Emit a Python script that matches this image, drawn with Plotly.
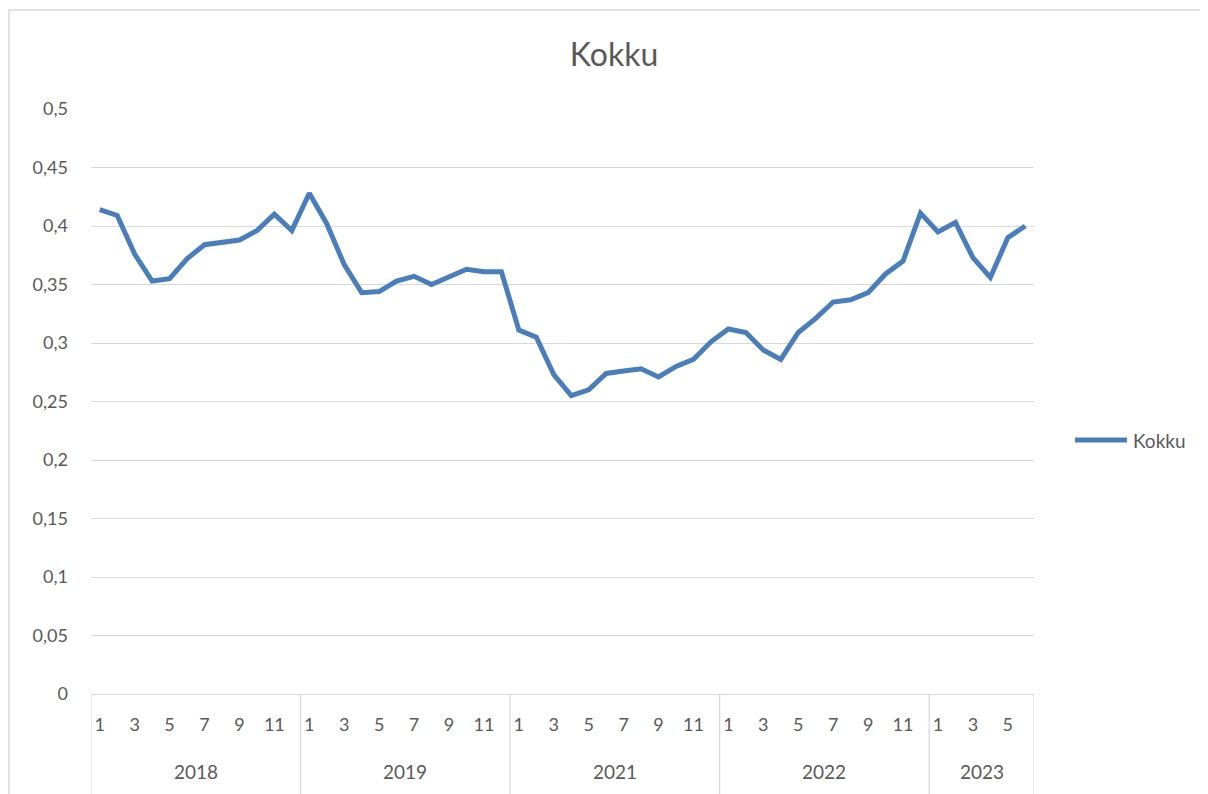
import plotly.graph_objects as go

# ---- data ----
years = ["2018", "2019", "2021", "2022", "2023"]
months_per_year = [12, 12, 12, 12, 6]
values_2018 = [0.414, 0.409, 0.376, 0.353, 0.355, 0.372, 0.384, 0.386, 0.388, 0.396, 0.410, 0.396]
values_2019 = [0.428, 0.402, 0.367, 0.343, 0.344, 0.353, 0.357, 0.350, 0.357, 0.363, 0.361, 0.361]
values_2021 = [0.311, 0.305, 0.273, 0.255, 0.260, 0.274, 0.276, 0.278, 0.271, 0.280, 0.286, 0.301]
values_2022 = [0.312, 0.309, 0.294, 0.286, 0.309, 0.321, 0.335, 0.337, 0.343, 0.359, 0.370, 0.411]
values_2023 = [0.395, 0.403, 0.373, 0.356, 0.390, 0.400]
y_ticks = [0, 0.05, 0.1, 0.15, 0.2, 0.25, 0.3, 0.35, 0.4, 0.45, 0.5]
series_name = "Kokku"

values = values_2018 + values_2019 + values_2021 + values_2022 + values_2023
month_labels = []
for n in months_per_year:
    month_labels += [str(m) for m in range(1, n + 1)]
idx = list(range(len(values)))

TEXT = "#595959"
GRID = "#d9d9d9"
LINE = "#4a7ebb"
FONT = "Lato, 'Open Sans', sans-serif"

OFF = 8  # page body margin
W, H = 1208 - OFF, 794 - OFF
# plot area in page pixels
L, R, T, B = 91, 1034, 109, 694
pw, ph = R - L, B - T

def px_to_paper_x(x):
    return (x - L) / pw

def px_to_paper_y(y):
    return (B - y) / ph

fig = go.Figure()
fig.add_trace(go.Scatter(
    x=idx, y=values, mode="lines", name=series_name,
    line=dict(color=LINE, width=5), showlegend=False,
))

shapes = []
annotations = []
start = 0
bounds = [-0.5]
for yr, n in zip(years, months_per_year):
    end = start + n
    bounds.append(end - 0.5)
    annotations.append(dict(
        x=(start + end - 1) / 2, xref="x", y=px_to_paper_y(771), yref="paper",
        text=yr, showarrow=False, font=dict(family=FONT, size=19, color=TEXT),
        xanchor="center", yanchor="middle"))
    start = end
for b in bounds:
    shapes.append(dict(type="line", xref="x", yref="paper", x0=b, x1=b,
                       y0=0, y1=px_to_paper_y(800), line=dict(color=GRID, width=1.3)))

# outer chart frame
shapes.append(dict(type="rect", xref="paper", yref="paper",
                   x0=px_to_paper_x(9), x1=px_to_paper_x(1230),
                   y0=px_to_paper_y(820), y1=px_to_paper_y(10),
                   line=dict(color=GRID, width=1.5)))

# legend (manual)
leg_y = px_to_paper_y(440)
shapes.append(dict(type="line", xref="paper", yref="paper",
                   x0=px_to_paper_x(1075), x1=px_to_paper_x(1127), y0=leg_y, y1=leg_y,
                   line=dict(color=LINE, width=5)))
annotations.append(dict(x=px_to_paper_x(1131), y=leg_y, xref="paper", yref="paper",
                        text=series_name, showarrow=False, xanchor="left", yanchor="middle",
                        font=dict(family=FONT, size=19, color=TEXT)))

tick_vals = [i for i, m in zip(idx, month_labels) if int(m) % 2 == 1]
tick_text = [m for m in month_labels if int(m) % 2 == 1]

fig.update_layout(
    width=W, height=H,
    margin=dict(l=L - OFF, r=1208 - R, t=T - OFF, b=794 - B),
    paper_bgcolor="white", plot_bgcolor="white",
    title=dict(text=series_name, x=(614 - OFF) / W, xanchor="center", y=1 - (55 - OFF) / H,
               yanchor="middle", font=dict(family=FONT, size=32, color=TEXT)),
    xaxis=dict(range=[-0.5, len(values) - 0.5], tickvals=tick_vals, ticktext=tick_text,
               showgrid=False, zeroline=False, showline=True, linecolor=GRID, linewidth=1.3,
               ticks="", ticklabelstandoff=14,
               tickfont=dict(family=FONT, size=18, color=TEXT)),
    yaxis=dict(range=[0, 0.5], tickvals=y_ticks,
               ticktext=[("%g" % v).replace(".", ",") for v in y_ticks],
               showgrid=True, gridcolor=GRID, gridwidth=1.3, zeroline=False,
               showline=False, ticks="", ticklabelstandoff=22,
               tickfont=dict(family=FONT, size=18, color=TEXT)),
    shapes=shapes, annotations=annotations, showlegend=False,
)

fig.write_html("out.html")
